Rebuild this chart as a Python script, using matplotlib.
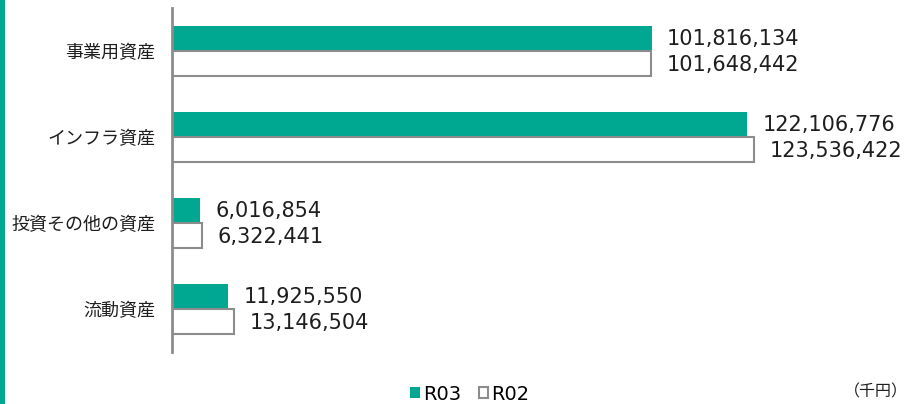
import numpy as np
import matplotlib.pyplot as plt
from matplotlib.patches import Rectangle

plt.rcParams['font.family'] = ['Noto Sans CJK JP', 'DejaVu Sans']

# data (千円)
categories = ['事業用資産', 'インフラ資産', '投資その他の資産', '流動資産']
r03 = [101816134, 122106776, 6016854, 11925550]
r02 = [101648442, 123536422, 6322441, 13146504]

teal = '#00A891'
gray = '#8C8C8C'
txt = '#1E1E1E'

fig = plt.figure(figsize=(9.12, 4.04), dpi=100)
ax = fig.add_axes([172 / 912, 52 / 404, (900 - 172) / 912, 344 / 404])

y = np.arange(len(categories))
h = 0.285
ax.barh(y - h / 2, r03, height=h, color=teal, edgecolor='none')
ax.barh(y + h / 2, r02, height=h, color='white', edgecolor=gray, linewidth=1.5)

for i in range(len(categories)):
    ax.annotate(f'{r03[i]:,}', (r03[i], y[i] - h / 2), xytext=(11, 0),
                textcoords='offset points', va='center', ha='left', fontsize=15,
                family='DejaVu Sans', color=txt)
    ax.annotate(f'{r02[i]:,}', (r02[i], y[i] + h / 2 + 0.02), xytext=(11, 0),
                textcoords='offset points', va='center', ha='left', fontsize=15,
                family='DejaVu Sans', color=txt)

ax.set_xlim(0, 154.5e6)
ax.set_ylim(3.5, -0.5)
ax.set_yticks(y)
ax.set_yticklabels(categories, fontsize=13, color=txt)
ax.tick_params(axis='y', length=0, pad=12)
ax.set_xticks([])
for s in ['top', 'right', 'bottom']:
    ax.spines[s].set_visible(False)
ax.spines['left'].set_color(gray)
ax.spines['left'].set_linewidth(2)

# legend
leg = fig.legend(handles=[Rectangle((0, 0), 1, 1, facecolor=teal, edgecolor='none'),
                          Rectangle((0, 0), 1, 1, facecolor='white', edgecolor=gray, linewidth=1.5)],
                 labels=['R03', 'R02'], loc='center', bbox_to_anchor=(470 / 912, 1 - 394 / 404),
                 ncol=2, frameon=False, prop={'family': 'DejaVu Sans', 'size': 14},
                 handlelength=0.5, handleheight=0.5, handletextpad=0.15, columnspacing=0.9)

fig.text(908 / 912, 1 - 392 / 404, '（千円）', ha='right', va='center', fontsize=11.5, color=txt)

# left accent strip
fig.patches.append(Rectangle((0, 0), 5 / 912, 1, transform=fig.transFigure,
                             facecolor=teal, edgecolor='none'))

fig.savefig('out.png', dpi=100)
